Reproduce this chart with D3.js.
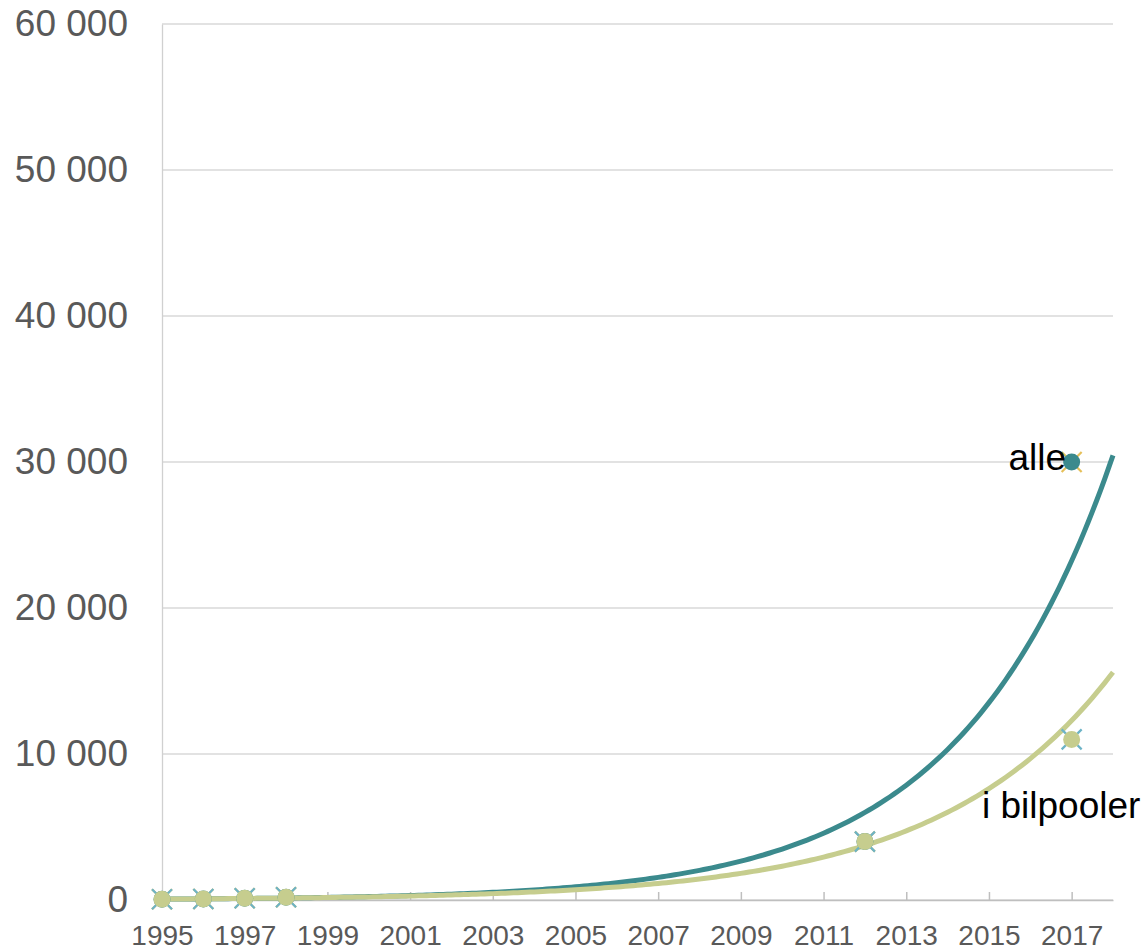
<!DOCTYPE html>
<html>
<head>
<meta charset="utf-8">
<script src="https://cdn.jsdelivr.net/npm/d3@7"></script>
<style>
  body { margin: 0; background: #fff; }
  text { font-family: "Liberation Sans", Arial, sans-serif; }
</style>
</head>
<body>
<div id="chart"></div>
<script>
// data
const years = [1995, 1996, 1997, 1998, 2012, 2017];
const alle = [45, 75, 120, 190, 4000, 30000];
const bilpooler = [45, 75, 120, 190, 4000, 11000];
const seriesNames = ["alle", "i bilpooler"];
const yTicks = [0, 10000, 20000, 30000, 40000, 50000, 60000];
const xTicks = [1995, 1997, 1999, 2001, 2003, 2005, 2007, 2009, 2011, 2013, 2015, 2017];

const width = 1145, height = 950;
const margin = { top: 24, right: 32, bottom: 50, left: 162 };

const svg = d3.select("#chart")
  .append("svg")
  .attr("width", width)
  .attr("height", height);

const x = d3.scaleLinear()
  .domain([1995, 2018])
  .range([margin.left, width - margin.right]);

const y = d3.scaleLinear()
  .domain([0, 60000])
  .range([height - margin.bottom, margin.top]);

const fmt = d3.formatLocale({ decimal: ",", thousands: " ", grouping: [3], currency: ["", ""] }).format(",d");

// gridlines
svg.append("g")
  .selectAll("line")
  .data(yTicks)
  .join("line")
  .attr("x1", x.range()[0])
  .attr("x2", x.range()[1])
  .attr("y1", d => y(d))
  .attr("y2", d => y(d))
  .attr("stroke", "#d9d9d9")
  .attr("stroke-width", 1.3);

// y axis
const yAxis = svg.append("g")
  .attr("transform", `translate(${margin.left},0)`)
  .call(d3.axisLeft(y).tickValues(yTicks).tickSize(0).tickPadding(34).tickFormat(fmt));
yAxis.select(".domain").attr("stroke", "#d0d0d0").attr("stroke-width", 1.3);
yAxis.selectAll("text")
  .attr("font-size", 37)
  .attr("fill", "#595959")
  .attr("font-family", "Liberation Sans, Arial, sans-serif");

// x axis
const xAxis = svg.append("g")
  .attr("transform", `translate(0,${y(0)})`)
  .call(d3.axisBottom(x).tickValues(xTicks).tickSizeInner(-8).tickSizeOuter(0).tickFormat(d3.format("d")));
xAxis.select(".domain").attr("stroke", "#bfbfbf").attr("stroke-width", 1.5);
xAxis.selectAll(".tick line").attr("stroke", "#bfbfbf").attr("stroke-width", 1.5);
xAxis.selectAll("text")
  .attr("y", 45)
  .attr("dy", 0)
  .attr("font-size", 28)
  .attr("fill", "#595959")
  .attr("font-family", "Liberation Sans, Arial, sans-serif");

// exponential trendline (least squares on log y, like the spreadsheet does)
function expFit(xs, ys) {
  const t = xs.map(v => v - xs[0]);
  const ly = ys.map(v => Math.log(v));
  const mt = d3.mean(t), my = d3.mean(ly);
  const b = d3.sum(t, (v, i) => (v - mt) * (ly[i] - my)) / d3.sum(t, v => (v - mt) * (v - mt));
  const a = Math.exp(my - b * mt);
  return xx => a * Math.exp(b * (xx - xs[0]));
}

const series = [
  { name: seriesNames[0], values: alle, color: "#3b8a8d", cross: "#e6c05a" },
  { name: seriesNames[1], values: bilpooler, color: "#c6cd8e", cross: "#6cb3c7" }
];

const line = d3.line().x(d => x(d[0])).y(d => y(d[1]));

series.forEach(s => {
  const f = expFit(years, s.values);
  const pts = d3.range(x.domain()[0], x.domain()[1] + 0.001, 0.1).map(t => [t, f(t)]);
  svg.append("path")
    .datum(pts)
    .attr("fill", "none")
    .attr("stroke", s.color)
    .attr("stroke-width", 5)
    .attr("d", line);
});

// markers
series.forEach(s => {
  const g = svg.append("g");
  const pts = years.map((yr, i) => [yr, s.values[i]]);
  const m = g.selectAll("g").data(pts).join("g")
    .attr("transform", d => `translate(${x(d[0])},${y(d[1])})`);
  m.append("path")
    .attr("d", "M-10,-10L10,10M-10,10L10,-10")
    .attr("stroke", s.cross)
    .attr("stroke-width", 2.2);
  m.append("circle")
    .attr("r", 8.5)
    .attr("fill", s.color);
});

// labels
svg.append("text")
  .attr("x", 1066)
  .attr("y", 470)
  .attr("text-anchor", "end")
  .attr("font-size", 37)
  .attr("fill", "#000")
  .text(seriesNames[0]);

svg.append("text")
  .attr("x", 982)
  .attr("y", 818)
  .attr("font-size", 37)
  .attr("fill", "#000")
  .text(seriesNames[1]);
</script>
</body>
</html>
